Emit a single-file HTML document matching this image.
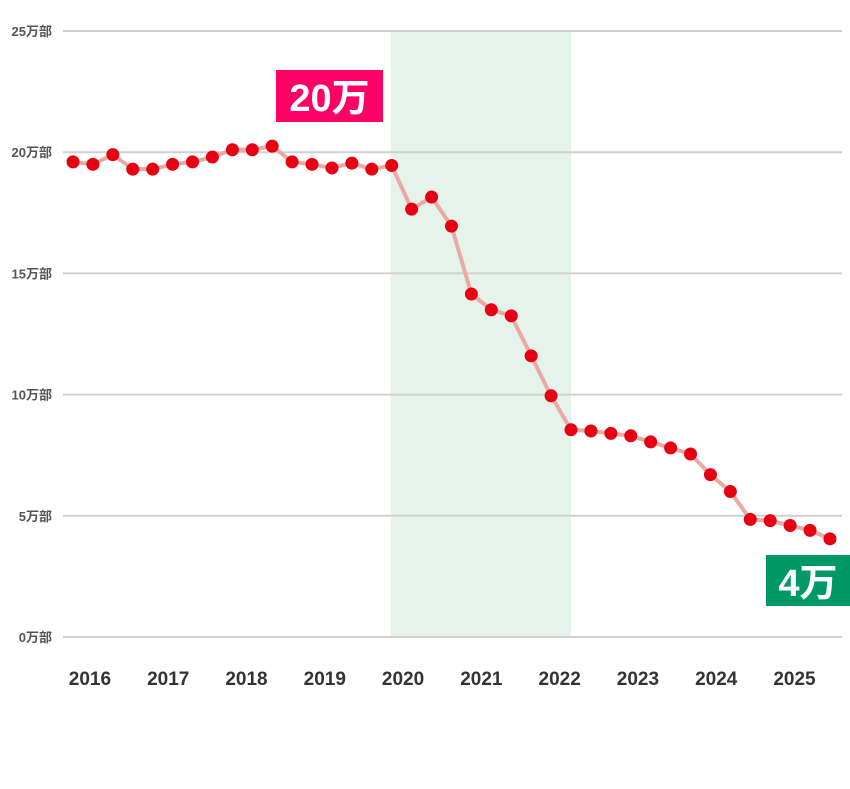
<!DOCTYPE html>
<html><head><meta charset="utf-8"><style>
html,body{margin:0;padding:0;background:#fff;}
svg{display:block;font-family:"Liberation Sans","Noto Sans CJK JP",sans-serif;}
</style></head><body>
<svg id="chart" width="850" height="789" viewBox="0 0 850 789" xmlns="http://www.w3.org/2000/svg"></svg>
<script>
const values=[19.6,19.5,19.9,19.3,19.3,19.5,19.6,19.8,20.1,20.1,20.25,19.6,19.5,19.35,19.55,19.3,19.45,17.65,18.15,16.95,14.15,13.5,13.25,11.6,9.95,8.55,8.5,8.4,8.3,8.05,7.8,7.55,6.7,6.0,4.85,4.8,4.6,4.4,4.05];
const yTicks=[0,5,10,15,20,25];
const yTickLabels=["0万部","5万部","10万部","15万部","20万部","25万部"];
const years=["2016","2017","2018","2019","2020","2021","2022","2023","2024","2025"];
const shadeRange=[15.95,25];
const NS="http://www.w3.org/2000/svg";
const svg=document.getElementById('chart');
const x=i=>73+i*19.92;
const y=v=>637-v*24.24;
function mk(t,a,p){const e=document.createElementNS(NS,t);for(const k in a)e.setAttribute(k,a[k]);(p||svg).appendChild(e);return e;}
// shade
let sh=mk('rect',{x:x(shadeRange[0]),y:y(25),width:x(shadeRange[1])-x(shadeRange[0]),height:y(0)-y(25),fill:'#e6f3ea'});


// grid
yTicks.forEach((t,i)=>{
 const g=mk('line',{x1:63,x2:842,y1:y(t),y2:y(t),stroke:'#d0d0d0','stroke-width':2});
 
 
 const l=mk('text',{x:52,y:y(t)+5,'text-anchor':'end','font-size':13,'font-weight':'bold',fill:'#555'});
 l.textContent=yTickLabels[i];
 
 
});
years.forEach((yr,k)=>{
 const t=mk('text',{x:x(0.85+k*3.93),y:685,'text-anchor':'middle','font-size':19,'font-weight':'bold',fill:'#333'});
 t.textContent=yr;
 
 
});
const line=mk('polyline',{points:values.map((v,i)=>x(i)+','+y(v)).join(' '),fill:'none',stroke:'#eba9a3','stroke-width':4,'stroke-linejoin':'round'});


values.forEach((v,i)=>{
 const c=mk('circle',{cx:x(i),cy:y(v),r:6.5,fill:'#e60012'});
 
 
});
// annotations
const a1=mk('g',{});


mk('rect',{x:276,y:70,width:107,height:52,fill:'#ff0066'},a1);
const t1=mk('text',{x:329.5,y:111,'text-anchor':'middle','font-size':38,'font-weight':'bold',fill:'#fff'},a1);t1.textContent='20万';
const a2=mk('g',{});


mk('rect',{x:766,y:555,width:84,height:51,fill:'#009966'},a2);
const t2=mk('text',{x:808,y:596,'text-anchor':'middle','font-size':38,'font-weight':'bold',fill:'#fff'},a2);t2.textContent='4万';
</script>
</body></html>
